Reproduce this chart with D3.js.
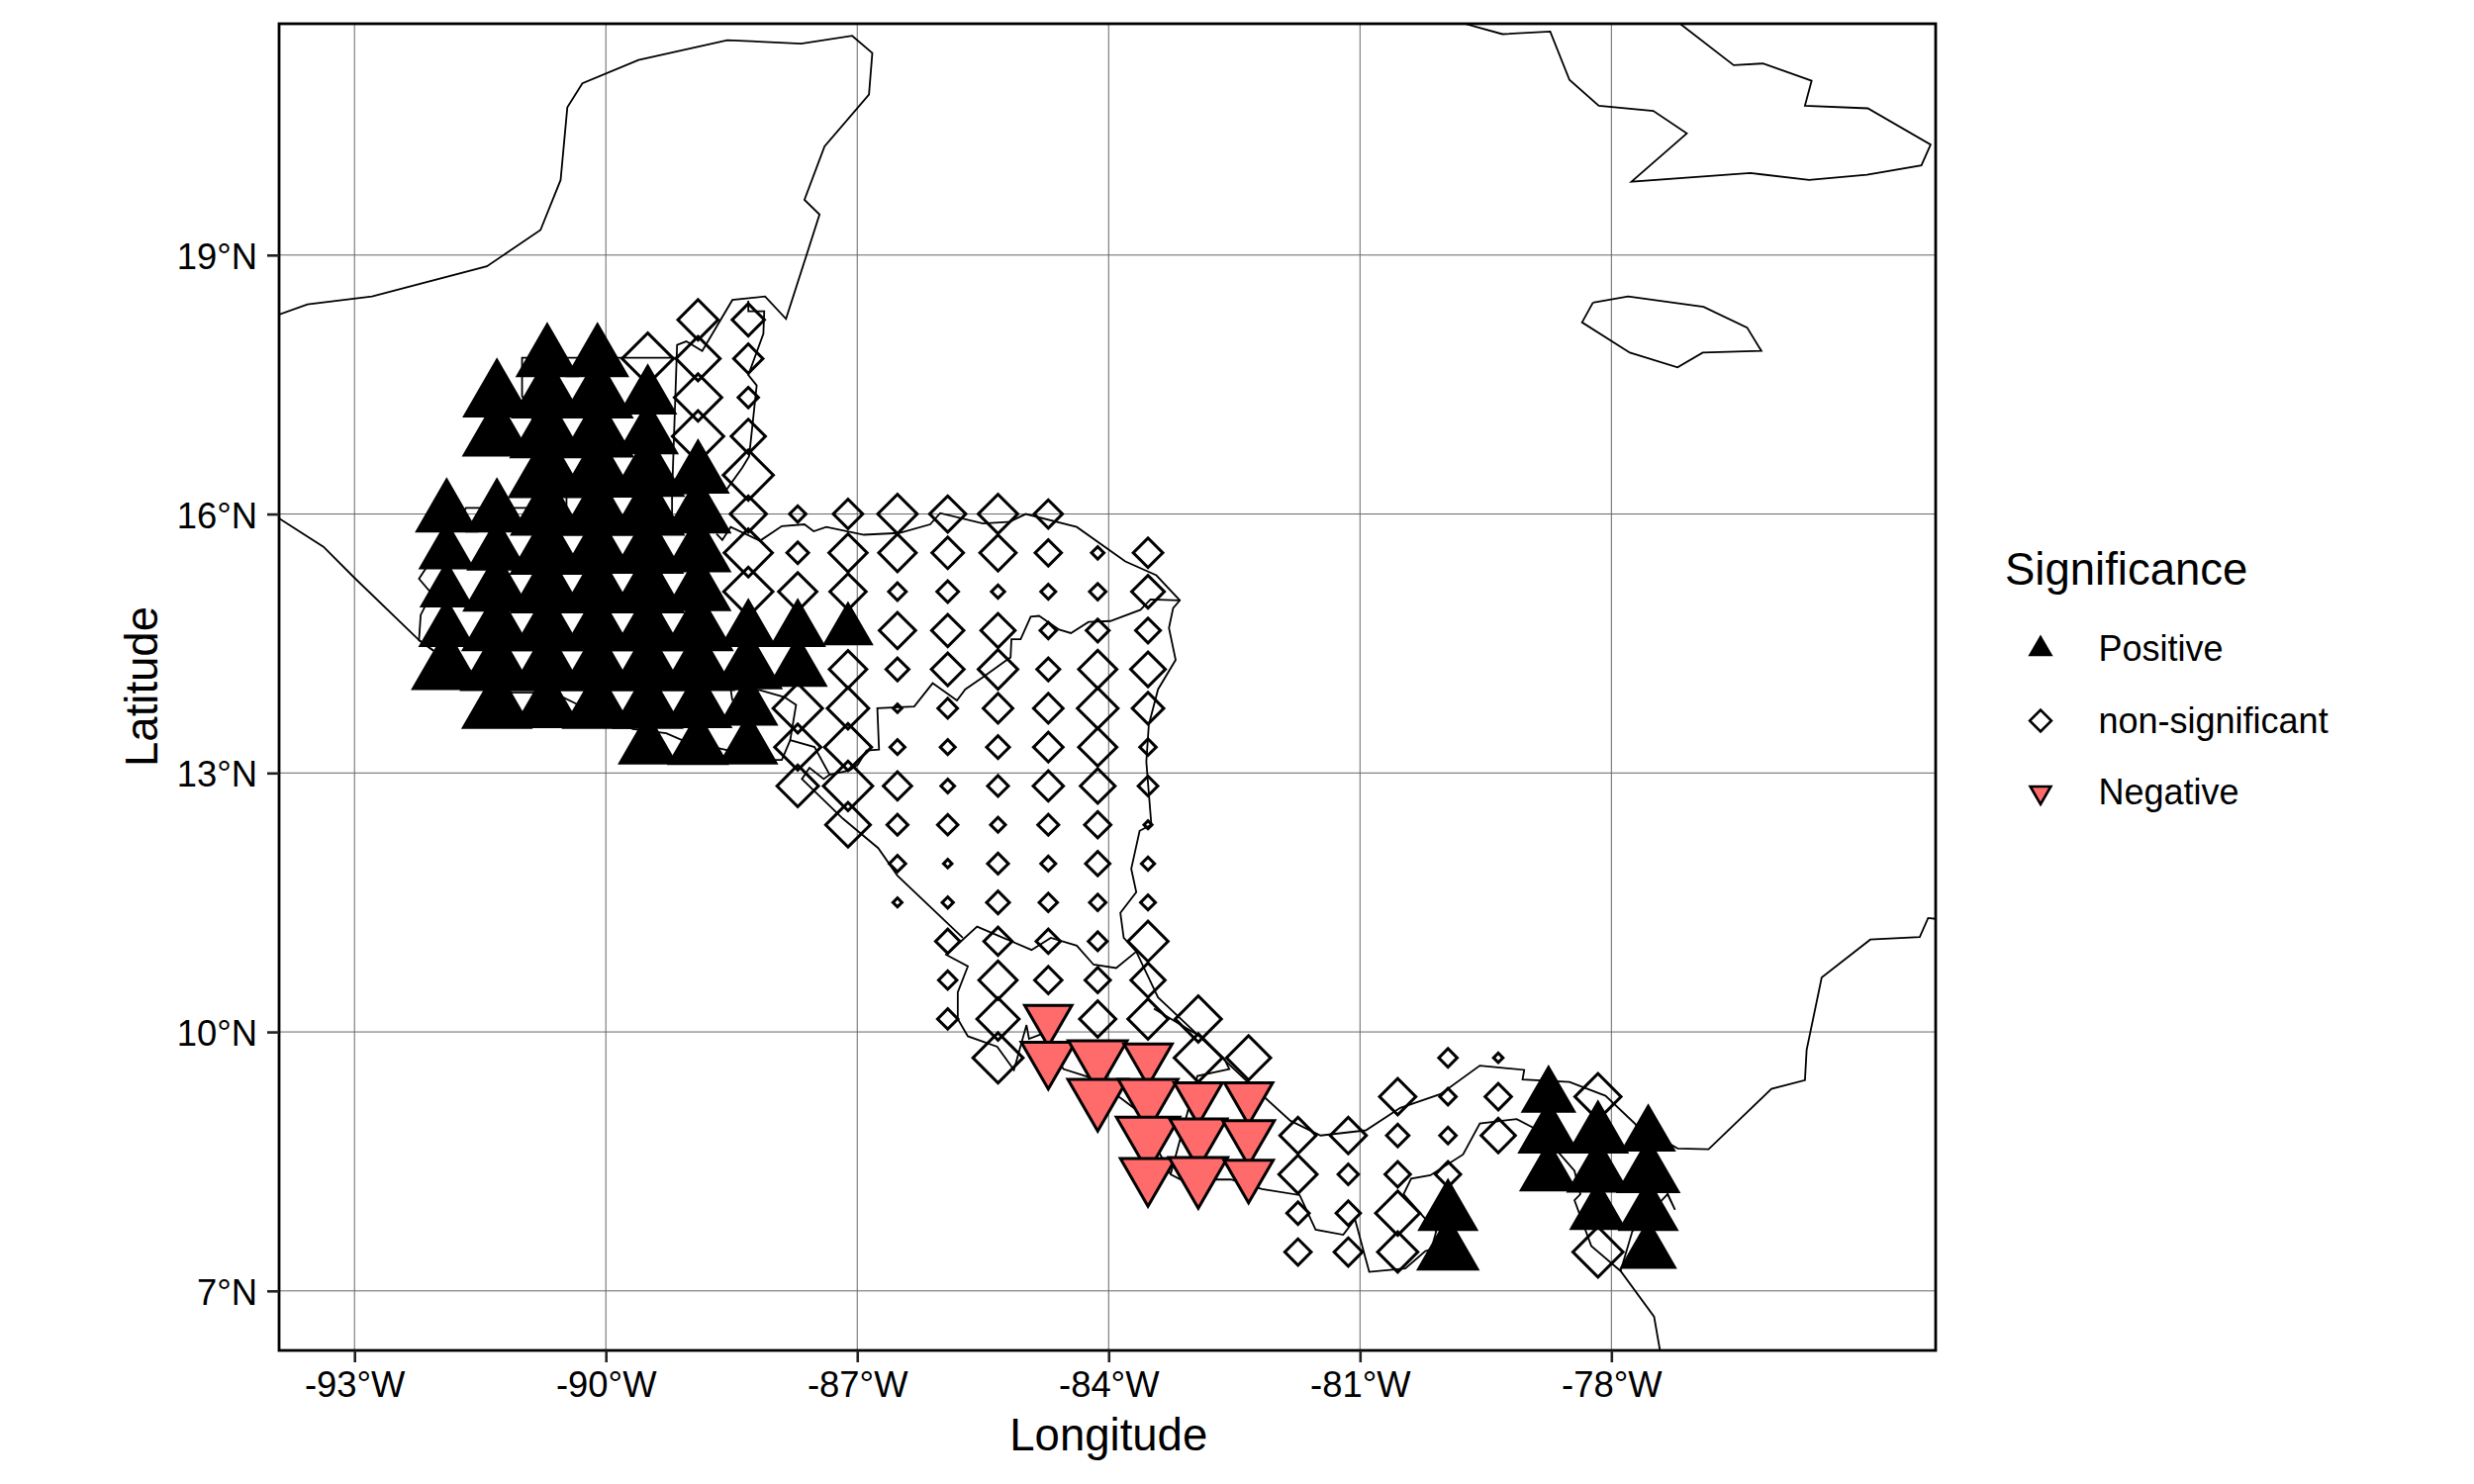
<!DOCTYPE html>
<html>
<head>
<meta charset="utf-8">
<script src="https://cdn.jsdelivr.net/npm/d3@7"></script>
<style>
  body { margin: 0; background: #fff; }
  text { font-family: "Liberation Sans", sans-serif; fill: #000; }
</style>
</head>
<body>
<div id="map"></div>
<script>
// tick labels
var lonTicks = [-93, -90, -87, -84, -81, -78];
var latTicks = [7, 10, 13, 16, 19];
var legendLabels = ["Positive", "non-significant", "Negative"];

// grid cells, one line per latitude row
var positiveLat = [17.8,17.8,
  17.35,17.35,17.35,17.35,
  16.9,16.9,16.9,16.9,
  16.45,16.45,16.45,16.45,
  16,16,16,16,16,16,
  15.55,15.55,15.55,15.55,15.55,15.55,
  15.1,15.1,15.1,15.1,15.1,15.1,
  14.65,14.65,14.65,14.65,14.65,14.65,14.65,14.65,14.65,
  14.2,14.2,14.2,14.2,14.2,14.2,14.2,14.2,
  13.75,13.75,13.75,13.75,13.75,13.75,
  13.3,13.3,13.3,
  9.25,
  8.8,8.8,8.8,
  8.35,8.35,8.35,
  7.9,7.9,7.9,
  7.45,7.45];
var positiveLon = [-90.7,-90.1,
  -91.3,-90.7,-90.1,-89.5,
  -91.3,-90.7,-90.1,-89.5,
  -90.7,-90.1,-89.5,-88.9,
  -91.9,-91.3,-90.7,-90.1,-89.5,-88.9,
  -91.9,-91.3,-90.7,-90.1,-89.5,-88.9,
  -91.9,-91.3,-90.7,-90.1,-89.5,-88.9,
  -91.9,-91.3,-90.7,-90.1,-89.5,-88.9,-88.3,-87.71,-87.11,
  -91.9,-91.3,-90.7,-90.1,-89.5,-88.9,-88.3,-87.71,
  -91.3,-90.7,-90.1,-89.5,-88.9,-88.3,
  -89.5,-88.9,-88.3,
  -78.75,
  -78.75,-78.16,-77.56,
  -78.75,-78.16,-77.56,
  -79.95,-78.16,-77.56,
  -79.95,-77.56];
var positiveEffect = [22,22,
  24.1,25.4,25.4,20.3,
  24.5,26.7,25.8,21.5,
  27.9,27.1,26.2,22,
  22,22,26.2,26.2,26.2,23.3,
  19.4,21.1,26.7,25.4,25.4,23.3,
  18.5,24.1,26.2,26.2,26.2,23.3,
  19.4,25,25,25,25,25,19.4,19.4,17.3,
  25,26.2,26.2,26.2,26.2,26.2,24.1,20.7,
  25,24.1,25,25,24,20.7,
  20.7,21.5,20.7,
  19,
  21.5,21.5,19,
  20.3,22,22.4,
  21.1,19.8,21.1,
  22,19.8];

var diamondLat = [18.25,18.25,
  17.8,17.8,17.8,
  17.35,17.35,
  16.9,16.9,
  16.45,
  16,16,16,16,16,16,16,
  15.55,15.55,15.55,15.55,15.55,15.55,15.55,15.55,15.55,
  15.1,15.1,15.1,15.1,15.1,15.1,15.1,15.1,15.1,
  14.65,14.65,14.65,14.65,14.65,14.65,
  14.2,14.2,14.2,14.2,14.2,14.2,14.2,
  13.75,13.75,13.75,13.75,13.75,13.75,13.75,13.75,
  13.3,13.3,13.3,13.3,13.3,13.3,13.3,13.3,
  12.85,12.85,12.85,12.85,12.85,12.85,12.85,12.85,
  12.4,12.4,12.4,12.4,12.4,12.4,12.4,
  11.95,11.95,11.95,11.95,11.95,11.95,
  11.5,11.5,11.5,11.5,11.5,11.5,
  11.05,11.05,11.05,11.05,11.05,
  10.6,10.6,10.6,10.6,10.6,
  10.15,10.15,10.15,10.15,10.15,
  9.7,9.7,9.7,9.7,9.7,
  9.25,9.25,9.25,9.25,
  8.8,8.8,8.8,8.8,8.8,
  8.35,8.35,8.35,8.35,
  7.9,7.9,7.9,
  7.45,7.45,7.45,7.45];
var diamondLon = [-88.9,-88.3,
  -89.5,-88.9,-88.3,
  -88.9,-88.3,
  -88.9,-88.3,
  -88.3,
  -88.3,-87.71,-87.11,-86.52,-85.92,-85.32,-84.72,
  -88.3,-87.71,-87.11,-86.52,-85.92,-85.32,-84.72,-84.13,-83.53,
  -88.3,-87.71,-87.11,-86.52,-85.92,-85.32,-84.72,-84.13,-83.53,
  -86.52,-85.92,-85.32,-84.72,-84.13,-83.53,
  -87.11,-86.52,-85.92,-85.32,-84.72,-84.13,-83.53,
  -87.71,-87.11,-86.52,-85.92,-85.32,-84.72,-84.13,-83.53,
  -87.71,-87.11,-86.52,-85.92,-85.32,-84.72,-84.13,-83.53,
  -87.71,-87.11,-86.52,-85.92,-85.32,-84.72,-84.13,-83.53,
  -87.11,-86.52,-85.92,-85.32,-84.72,-84.13,-83.53,
  -86.52,-85.92,-85.32,-84.72,-84.13,-83.53,
  -86.52,-85.92,-85.32,-84.72,-84.13,-83.53,
  -85.92,-85.32,-84.72,-84.13,-83.53,
  -85.92,-85.32,-84.72,-84.13,-83.53,
  -85.92,-85.32,-84.13,-83.53,-82.93,
  -85.32,-82.93,-82.33,-79.95,-79.35,
  -80.55,-79.95,-79.35,-78.16,
  -81.74,-81.14,-80.55,-79.95,-79.35,
  -81.74,-81.14,-80.55,-79.95,
  -81.74,-81.14,-80.55,
  -81.74,-81.14,-80.55,-78.16];
var diamondEffect = [16.2,13,
  20.7,17.8,11.8,
  19.1,8.2,
  20.7,13.8,
  20.2,
  14.6,6.6,11.9,15.9,14.6,15.9,11.4,
  19.4,8.7,15.4,15.1,12.7,14.6,10.6,5,11.9,
  19.8,15.4,14.6,7.1,8.7,5.3,6,6.6,13.2,
  14.6,13,13.8,6.6,9.2,10,
  15.1,9.2,13.2,15.9,9.2,15.4,14,
  19.9,16.7,3.4,7.9,11.9,11.9,16.4,12.7,
  18.6,19,6,6,9.2,11.9,15.4,6.6,
  16.7,19.9,11.4,5.5,8.4,12.2,14,7.9,
  18,8.4,8.2,6,8.4,10.6,3.2,
  6.6,3.4,8.4,6,9.8,5.3,
  3.6,4.5,9.2,7.4,6.6,6,
  9.8,11.4,9.8,7.6,16.2,
  7.4,15.4,11,10.2,13.8,
  8.2,17,14.6,16.2,18.6,
  20.2,19.4,17.8,7.4,3.8,
  14.6,6.6,10.6,18.6,
  14.6,14.6,9,6.6,13.8,
  15.4,8.2,10.2,10.2,
  9,9.8,17.8,
  10.6,11.4,16.2,20.2];

var negativeLat = [10.15,
  9.7,9.7,9.7,
  9.25,9.25,9.25,9.25,
  8.8,8.8,8.8,
  8.35,8.35,8.35];
var negativeLon = [-84.72,
  -84.72,-84.13,-83.53,
  -84.13,-83.53,-82.93,-82.33,
  -83.53,-82.93,-82.33,
  -83.53,-82.93,-82.33];
var negativeEffect = [17.7,
  20.3,22,18.1,
  22.4,22.4,18.1,18.1,
  23.7,21.5,19.4,
  20.7,22,18.5];

// coastlines and borders, lon/lat
var yucatan = [[-93.90,18.31],[-93.56,18.43],[-92.79,18.52],[-91.42,18.87],[-90.78,19.29],[-90.54,19.87],[-90.46,20.71],[-90.28,20.99],[-89.61,21.26],[-88.55,21.49],[-87.67,21.45],[-87.06,21.54],[-86.82,21.34],[-86.86,20.86],[-87.39,20.26],[-87.63,19.64],[-87.45,19.47],[-87.85,18.26],[-88.10,18.52],[-88.49,18.48],[-88.85,17.89],[-89.04,18.00],[-89.15,17.96],[-89.21,16.23],[-89.21,16.0]];
var belize = [[-88.30,18.47],[-88.30,18.35],[-88.11,18.35],[-88.12,18.09],[-88.30,17.61],[-88.20,17.49],[-88.29,16.67],[-88.37,16.54],[-88.57,16.27],[-89.21,16.23]];
var guatemalaWest = [[-89.15,17.81],[-91.0,17.81],[-91.0,17.37],[-90.47,16.19],[-90.47,16.07],[-91.67,16.07],[-92.23,15.25],[-92.08,15.08],[-92.21,14.83],[-92.23,14.54],[-92.06,14.42]];
var pacificNorth = [[-93.90,15.95],[-93.37,15.62],[-93.01,15.27],[-92.22,14.53],[-92.06,14.42],[-91.12,13.93],[-90.84,13.93],[-90.54,13.89],[-90.35,13.80],[-89.68,13.51],[-89.28,13.46],[-89.09,13.38],[-88.02,13.15],[-87.90,13.15],[-87.80,13.38],[-87.51,13.30],[-87.33,12.98],[-87.40,12.93],[-87.57,13.06],[-87.66,12.93],[-87.17,12.47],[-86.75,12.13],[-86.52,11.81],[-85.74,11.09]];
var salvadorBorder = [[-88.51,13.97],[-88.49,13.84],[-88.51,13.97],[-88.16,13.96],[-87.87,13.88],[-87.73,13.79],[-87.80,13.38]];
var pacificSouth = [[-85.95,10.90],[-85.68,10.76],[-85.80,10.46],[-85.80,10.15],[-85.68,9.95],[-85.33,9.83],[-85.13,9.56],[-84.98,10.08],[-84.95,9.92],[-84.79,9.98],[-84.54,9.57],[-84.25,9.48],[-83.85,9.23],[-83.66,9.09],[-83.26,8.35],[-83.14,8.29],[-82.54,8.29],[-82.17,8.18],[-81.72,8.11],[-81.53,7.71],[-81.20,7.65],[-81.06,7.83],[-80.89,7.22],[-80.46,7.26],[-80.22,7.46],[-80.15,7.48],[-80.09,7.69],[-80.48,8.12],[-80.39,8.30],[-80.16,8.34],[-79.77,8.58],[-79.57,8.94],[-79.13,8.99],[-78.93,8.89],[-78.61,8.58],[-78.44,8.39],[-78.37,8.12],[-78.44,8.05],[-78.24,7.52],[-77.89,7.23],[-77.49,6.70],[-77.42,6.31]];
var honduras = [[-88.68,15.77],[-88.61,15.70],[-88.51,15.85],[-88.16,15.69],[-87.90,15.86],[-87.63,15.88],[-87.52,15.80],[-87.37,15.85],[-86.92,15.76],[-86.50,15.78],[-86.13,15.88],[-86.01,16.01],[-85.50,15.89],[-85.18,15.91],[-84.99,16.0],[-84.38,15.85],[-83.80,15.45],[-83.43,15.29],[-83.15,15.0],[-83.23,14.91],[-83.28,14.68],[-83.20,14.31],[-83.41,13.97],[-83.52,13.56],[-83.55,13.13],[-83.49,12.40],[-83.63,12.33],[-83.73,11.89],[-83.67,11.62],[-83.86,11.38],[-83.82,11.09],[-83.67,10.93],[-83.41,10.40],[-82.35,9.43],[-81.83,8.97],[-81.47,8.80],[-80.93,8.86],[-80.52,9.12],[-80.04,9.28],[-79.57,9.61],[-79.04,9.56],[-79.06,9.45],[-78.50,9.42],[-78.07,9.26],[-77.71,8.93],[-77.21,8.65],[-76.84,8.64],[-76.09,9.34],[-75.69,9.44],[-75.67,9.79],[-75.49,10.63],[-74.91,11.07],[-74.32,11.10],[-74.22,11.32],[-74.13,11.31]];
var nicaraguaNorth = [[-83.15,15.0],[-83.50,15.01],[-83.62,14.89],[-83.98,14.76],[-84.24,14.75],[-84.45,14.62],[-84.59,14.66],[-84.83,14.82],[-84.93,14.81],[-85.05,14.55],[-85.16,14.55],[-85.17,14.34],[-85.50,14.11],[-85.71,13.97],[-85.81,13.84],[-86.10,14.04],[-86.32,13.77],[-86.76,13.75],[-86.74,13.27],[-86.89,13.26],[-86.99,13.10],[-87.09,13.03],[-87.33,12.98]];
var nicaraguaSouth = [[-85.93,10.90],[-85.57,11.22],[-84.92,10.95],[-84.69,11.09],[-84.38,11.0],[-84.18,10.78],[-83.91,10.74],[-83.67,10.93]];
var panamaBorder = [[-83.46,10.27],[-82.91,9.95],[-82.62,9.69],[-82.56,9.57],[-82.94,9.49],[-83.26,8.35]];
var colombiaBorder = [[-77.71,8.93],[-77.24,7.94],[-77.33,8.12],[-77.75,7.69],[-77.89,7.23]];
var cuba = [[-79.75,21.68],[-79.30,21.56],[-78.73,21.59],[-78.50,21.03],[-78.15,20.73],[-77.50,20.67],[-77.10,20.41],[-77.76,19.85],[-76.34,19.95],[-75.64,19.87],[-74.95,19.93],[-74.30,20.04],[-74.19,20.28],[-74.94,20.70],[-75.69,20.73],[-75.61,21.02],[-76.19,21.22],[-76.54,21.20],[-77.18,21.68]];
var jamaica = [[-78.22,18.45],[-77.80,18.52],[-76.90,18.40],[-76.38,18.16],[-76.21,17.89],[-76.91,17.87],[-77.21,17.70],[-77.78,17.87],[-78.35,18.22],[-78.22,18.45]];

var coastLines = [yucatan, belize, guatemalaWest, pacificNorth, salvadorBorder, pacificSouth, honduras,
  nicaraguaNorth, nicaraguaSouth, panamaBorder, colombiaBorder, cuba, jamaica];

// frame
var svgWidth = 2500;
var svgHeight = 1500;
var margin = { top: 24, right: 544, bottom: 135, left: 282 };
var width = svgWidth - margin.left - margin.right;
var height = svgHeight - margin.top - margin.bottom;

var svg = d3.select("#map").append("svg")
  .attr("width", svgWidth)
  .attr("height", svgHeight);

var chartGroup = svg.append("g")
  .attr("transform", `translate(${margin.left}, ${margin.top})`);

var xScale = d3.scaleLinear().domain([-93.9, -74.13]).range([0, width]);
var yScale = d3.scaleLinear().domain([6.31, 21.68]).range([height, 0]);
var radiusScale = d3.scaleLinear().domain([0, 30]).range([0, 30]);

svg.append("defs").append("clipPath").attr("id", "panel")
  .append("rect").attr("width", width).attr("height", height);

// symbols have equal area for equal effect, like R point shapes
function symbolPath(type, effect) {
  return d3.symbol().type(type).size(Math.PI * Math.pow(radiusScale(effect), 2))();
}

// grid
chartGroup.selectAll(".vgrid").data(lonTicks).enter().append("line")
  .attr("x1", d => xScale(d)).attr("x2", d => xScale(d))
  .attr("y1", 0).attr("y2", height)
  .attr("stroke", "#666").attr("stroke-width", 1);
chartGroup.selectAll(".hgrid").data(latTicks).enter().append("line")
  .attr("x1", 0).attr("x2", width)
  .attr("y1", d => yScale(d)).attr("y2", d => yScale(d))
  .attr("stroke", "#666").attr("stroke-width", 1);

var mapGroup = chartGroup.append("g").attr("clip-path", "url(#panel)");

var line = d3.line().x(d => xScale(d[0])).y(d => yScale(d[1]));
mapGroup.selectAll(".coast").data(coastLines).enter().append("path")
  .attr("d", line)
  .attr("fill", "none")
  .attr("stroke", "#000")
  .attr("stroke-width", 1.8);

function drawPoints(lats, lons, effects, type, angle, fill) {
  mapGroup.append("g").selectAll("path")
    .data(d3.zip(lats, lons, effects))
    .enter().append("path")
    .attr("d", d => symbolPath(type, d[2]))
    .attr("transform", d => `translate(${xScale(d[1])}, ${yScale(d[0])}) rotate(${angle})`)
    .attr("fill", fill)
    .attr("stroke", "#000")
    .attr("stroke-width", 3)
    .attr("stroke-linejoin", "miter");
}

drawPoints(diamondLat, diamondLon, diamondEffect, d3.symbolSquare, 45, "none");
drawPoints(positiveLat, positiveLon, positiveEffect, d3.symbolTriangle, 0, "#000");
drawPoints(negativeLat, negativeLon, negativeEffect, d3.symbolTriangle, 180, "#FF6B6B");

// panel border
chartGroup.append("rect")
  .attr("width", width).attr("height", height)
  .attr("fill", "none").attr("stroke", "#000").attr("stroke-width", 2.8);

// axes
var bottomAxis = d3.axisBottom(xScale).tickValues(lonTicks).tickSize(12).tickPadding(9).tickFormat(d => `${d}°W`);
var leftAxis = d3.axisLeft(yScale).tickValues(latTicks).tickSize(12).tickPadding(10).tickFormat(d => `${d}°N`);

var xAxisGroup = chartGroup.append("g").attr("transform", `translate(0, ${height})`).call(bottomAxis);
var yAxisGroup = chartGroup.append("g").call(leftAxis);
[xAxisGroup, yAxisGroup].forEach(function(g) {
  g.select(".domain").remove();
  g.selectAll("line").attr("stroke", "#222").attr("stroke-width", 2.6);
  g.selectAll("text").attr("font-size", 36.4).attr("fill", "#000");
});
yAxisGroup.selectAll("text").attr("dy", "0.37em");

svg.append("text")
  .attr("x", margin.left + xScale(-84)).attr("y", 1466)
  .attr("text-anchor", "middle").attr("font-size", 45.5)
  .text("Longitude");
svg.append("text")
  .attr("transform", "translate(159, 694) rotate(-90)")
  .attr("text-anchor", "middle").attr("font-size", 45.5)
  .text("Latitude");

// legend
svg.append("text").attr("x", 2026).attr("y", 591).attr("font-size", 45.5).text("Significance");
var legendY = d3.scalePoint().domain(legendLabels).range([656, 801]);
var legendShapes = [[d3.symbolTriangle, 0, "#000", 7.7], [d3.symbolSquare, 45, "none", 8.7], [d3.symbolTriangle, 180, "#FF6B6B", 7.7]];
legendLabels.forEach(function(label, i) {
  var s = legendShapes[i];
  svg.append("path")
    .attr("d", symbolPath(s[0], s[3]))
    .attr("transform", `translate(2062, ${legendY(label)}) rotate(${s[1]})`)
    .attr("fill", s[2]).attr("stroke", "#000").attr("stroke-width", 2.6);
  svg.append("text")
    .attr("x", 2120.5).attr("y", legendY(label) + 12)
    .attr("font-size", 36)
    .text(label);
});
</script>
</body>
</html>
